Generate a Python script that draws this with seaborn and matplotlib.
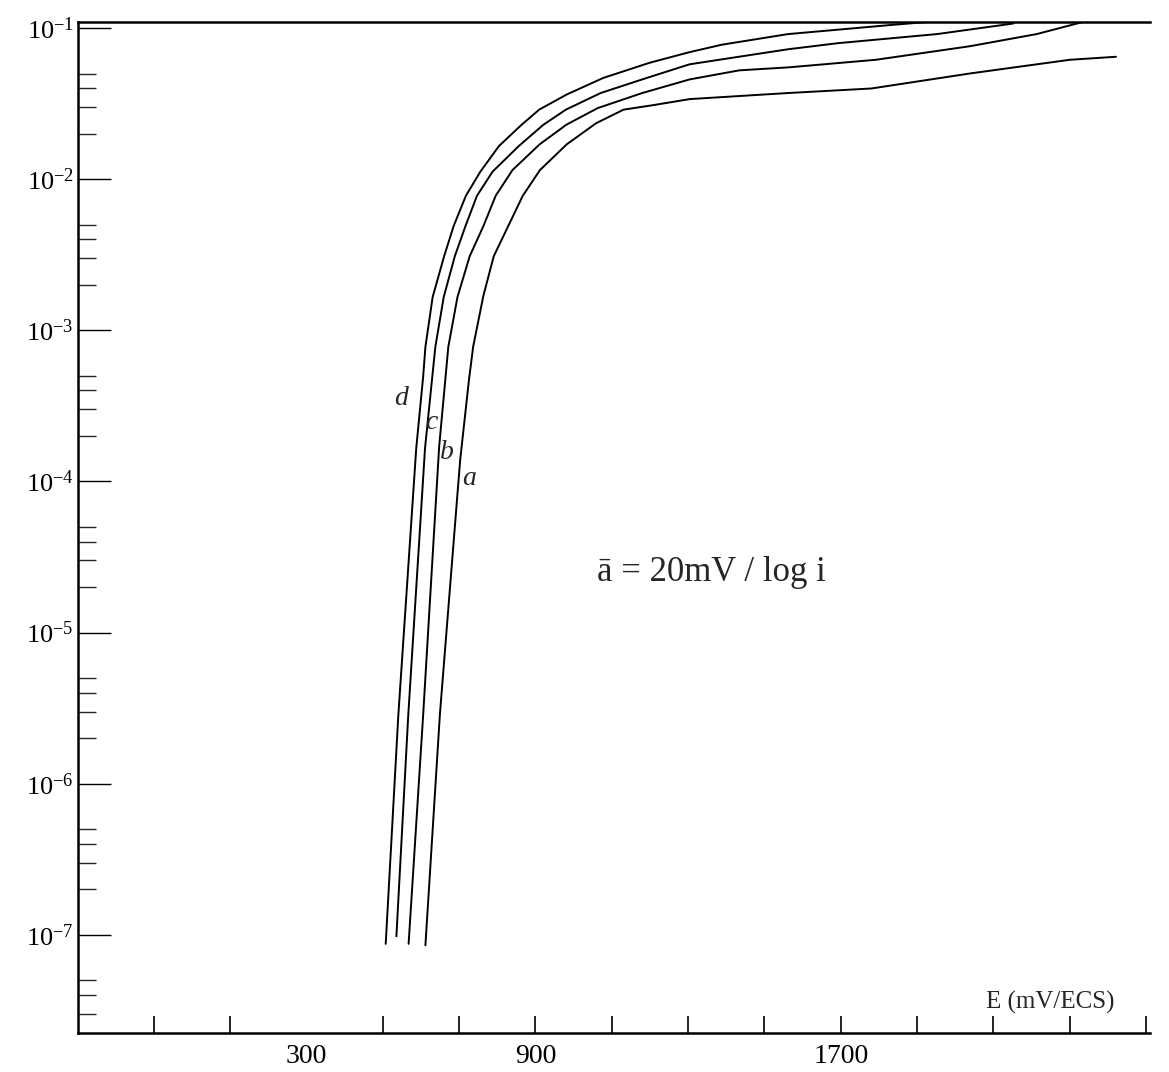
import numpy as np
import pandas as pd
import matplotlib
matplotlib.use("Agg")
import matplotlib.pyplot as plt
import seaborn as sns
from matplotlib.ticker import FixedLocator, FixedFormatter, NullFormatter

# ---- data (E in mV/ECS, log10 of current) ----
E_a = [612, 650, 703, 726, 737, 764, 791, 829, 867, 912, 982, 1059, 1131, 1209, 1305, 1562, 1780, 2040, 2300, 2421]
logi_a = [-7.07, -5.54, -3.86, -3.33, -3.11, -2.77, -2.51, -2.31, -2.11, -1.94, -1.77, -1.63, -1.54, -1.51, -1.47, -1.43, -1.40, -1.30, -1.21, -1.19]

E_b = [568, 606, 648, 672, 696, 728, 764, 796, 840, 911, 981, 1063, 1180, 1304, 1434, 1564, 1792, 2039, 2213, 2334]
logi_b = [-7.06, -5.55, -3.77, -3.11, -2.78, -2.51, -2.31, -2.11, -1.94, -1.77, -1.64, -1.53, -1.43, -1.34, -1.28, -1.26, -1.21, -1.12, -1.04, -0.96]

E_c = [536, 567, 611, 638, 660, 689, 717, 747, 788, 857, 921, 980, 1071, 1192, 1304, 1433, 1563, 1693, 1952, 2152]
logi_c = [-7.01, -5.55, -3.78, -3.11, -2.78, -2.51, -2.31, -2.11, -1.95, -1.78, -1.64, -1.54, -1.43, -1.33, -1.24, -1.19, -1.14, -1.10, -1.04, -0.97]

E_d = [508, 541, 588, 606, 612, 631, 661, 686, 718, 756, 805, 864, 910, 982, 1078, 1199, 1303, 1389, 1562, 1830, 1926]
logi_d = [-7.06, -5.55, -3.78, -3.31, -3.11, -2.78, -2.51, -2.31, -2.11, -1.95, -1.78, -1.64, -1.54, -1.44, -1.33, -1.23, -1.16, -1.11, -1.04, -0.98, -0.96]

curve_names = ["a", "b", "c", "d"]
label_E = [727, 668, 628, 549]
label_logi = [-3.98, -3.81, -3.61, -3.45]

x_tick_values = [-100, 100, 300, 500, 700, 900, 1100, 1300, 1500, 1700, 1900, 2100, 2300, 2500]
x_tick_labels = ["", "", "300", "", "", "900", "", "", "", "1700", "", "", "", ""]
y_decades = [-7, -6, -5, -4, -3, -2, -1]
y_minor_subs = [2, 3, 4, 5]

annotation = "ā = 20mV / log i"
x_label = "E (mV/ECS)"

# ---- build table ----
frames = []
for name, E, L in zip(curve_names, [E_a, E_b, E_c, E_d], [logi_a, logi_b, logi_c, logi_d]):
    frames.append(pd.DataFrame({"curve": name, "E": E, "i": 10.0 ** np.array(L)}))
df = pd.concat(frames, ignore_index=True)

sns.set_style("ticks")
plt.rcParams["font.family"] = ["Liberation Serif", "DejaVu Serif"]
plt.rcParams["mathtext.fontset"] = "custom"
plt.rcParams["mathtext.rm"] = "Liberation Serif"
plt.rcParams["mathtext.it"] = "Liberation Serif:italic"

fig = plt.figure(figsize=(11.69, 10.72), dpi=100)
ax = fig.add_axes([78 / 1169, 39 / 1072, 1072 / 1169, 1011 / 1072])

sns.lineplot(data=df, x="E", y="i", units="curve", estimator=None, sort=False,
             color="black", lw=1.4, ax=ax, legend=False)

ax.set_yscale("log")
ax.set_xlim(-298, 2510)
ax.set_ylim(10 ** -7.65, 10 ** -0.96)

# x ticks
ax.xaxis.set_major_locator(FixedLocator(x_tick_values))
ax.xaxis.set_major_formatter(FixedFormatter(x_tick_labels))
ax.tick_params(axis="x", which="major", direction="in", length=12, width=1.2,
               labelsize=20, pad=8, colors="black")
for t, v in zip(ax.xaxis.get_major_ticks(), x_tick_values):
    if v == 300:
        t.tick1line.set_visible(False)

# y ticks
major_y = [10.0 ** d for d in y_decades]
minor_y = [s * 10.0 ** d for d in y_decades[:-1] + [-8] for s in y_minor_subs]
minor_y = [v for v in minor_y if 10 ** -7.65 < v < 10 ** -0.96]
ax.yaxis.set_major_locator(FixedLocator(major_y))
ax.yaxis.set_major_formatter(FixedFormatter([r"$\mathregular{10^{%d}}$" % d for d in y_decades]))
ax.yaxis.set_minor_locator(FixedLocator(minor_y))
ax.yaxis.set_minor_formatter(NullFormatter())
ax.tick_params(axis="y", which="major", direction="in", length=24, width=1.0,
               labelsize=19, pad=3, colors="black")
ax.tick_params(axis="y", which="minor", direction="in", length=13, width=1.0)

ax.set_xlabel("")
ax.set_ylabel("")

for side in ["left", "bottom", "top"]:
    ax.spines[side].set_linewidth(1.8)
    ax.spines[side].set_color("black")
ax.spines["right"].set_visible(False)

# curve labels
for name, e, l in zip(curve_names, label_E, label_logi):
    ax.text(e, 10 ** l, name, fontsize=20, style="italic", ha="center", va="center",
            family=["Liberation Serif", "DejaVu Serif"])

ax.text(1362, 10 ** -4.60, annotation, fontsize=25, ha="center", va="center")
ax.text(0.967, 0.03, x_label, transform=ax.transAxes, fontsize=18, ha="right", va="center")

fig.savefig("out.png", dpi=100, facecolor="white")
